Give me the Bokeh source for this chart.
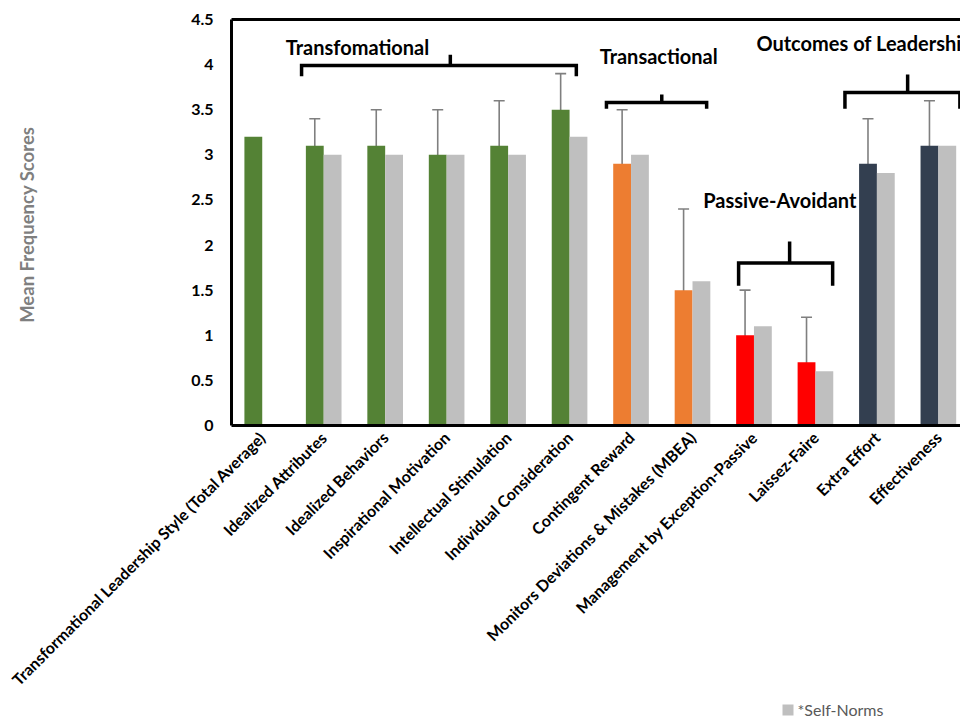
import numpy as np
from bokeh.plotting import figure
from bokeh.layouts import column
from bokeh.models import (ColumnDataSource, FixedTicker, LinearAxis, Whisker, TeeHead,
                          NumeralTickFormatter, Range1d)
from bokeh.embed import file_html
from bokeh.resources import INLINE
from bokeh.core.properties import value

# ---------------- data ----------------
categories = [
    "Transformational Leadership Style (Total Average)",
    "Idealized Attributes",
    "Idealized Behaviors",
    "Inspirational Motivation",
    "Intellectual Stimulation",
    "Individual Consideration",
    "Contingent Reward",
    "Monitors Deviations & Mistakes (MBEA)",
    "Management by Exception-Passive",
    "Laissez-Faire",
    "Extra Effort",
    "Effectiveness",
]
scores = [3.2, 3.1, 3.1, 3.0, 3.1, 3.5, 2.9, 1.5, 1.0, 0.7, 2.9, 3.1]
err_low = [np.nan, 2.8, 2.7, 2.5, 2.6, 3.1, 2.3, 0.6, 0.5, 0.2, 2.4, 2.6]
err_high = [np.nan, 3.4, 3.5, 3.5, 3.6, 3.9, 3.5, 2.4, 1.5, 1.2, 3.4, 3.6]
self_norms = [np.nan, 3.0, 3.0, 3.0, 3.0, 3.2, 3.0, 1.6, 1.1, 0.6, 2.8, 3.1]
style_group = ["transformational"] * 6 + ["transactional"] * 2 + ["passive"] * 2 + ["outcomes"] * 2
y_ticks = [0, 0.5, 1, 1.5, 2, 2.5, 3, 3.5, 4, 4.5]
legend_label = "*Self-Norms"
y_title = "Mean Frequency  Scores"

# group annotations (text, label x, label y, align) and bracket geometry (x_left, x_mid, x_right, y_bar, y_end, y_top)
group_labels = [
    ("Transfomational", 2.05, 4.19, "center"),
    ("Transactional", 6.95, 4.09, "center"),
    ("Outcomes of Leadership", 8.54, 4.24, "left"),
    ("Passive-Avoidant", 8.92, 2.50, "center"),
]
brackets = [
    (1.14, 3.56, 5.61, 3.99, 3.87, 4.11),
    (6.10, 7.00, 7.73, 3.58, 3.51, 3.67),
    (8.25, 9.08, 9.78, 1.80, 1.55, 2.04),
    (9.98, 11.00, 11.85, 3.69, 3.51, 3.89),
]

# ---------------- styling ----------------
palette = {
    "transformational": "#548235",
    "transactional": "#ED7D31",
    "passive": "#FF0000",
    "outcomes": "#333F50",
}
norm_color = "#BFBFBF"
FONT = "Lato"
bar_w = 0.29

n = len(categories)
centers = np.arange(n) + 0.5
main_x = centers - bar_w / 2
norm_x = centers + bar_w / 2

p = figure(width=960, height=698, output_backend="svg", toolbar_location=None,
           x_range=Range1d(0, 11.86), y_range=Range1d(0, 4.5),
           min_border_left=231, min_border_right=0, min_border_top=19,
           min_border_bottom=273)
p.outline_line_color = None
p.xgrid.grid_line_color = None
p.ygrid.grid_line_color = None
p.background_fill_color = "white"
p.border_fill_color = "white"

main_src = ColumnDataSource(dict(x=main_x, top=scores,
                                 color=[palette[g] for g in style_group]))
p.vbar(x="x", top="top", width=bar_w, bottom=0, fill_color="color",
       line_color=None, source=main_src)

norm_src = ColumnDataSource(dict(x=norm_x, top=self_norms))
p.vbar(x="x", top="top", width=bar_w, bottom=0, fill_color=norm_color,
       line_color=None, source=norm_src)

# error bars
mask = ~np.isnan(np.array(err_low))
err_src = ColumnDataSource(dict(x=main_x[mask], lo=np.array(err_low)[mask],
                                hi=np.array(err_high)[mask]))
whisk = Whisker(base="x", lower="lo", upper="hi", source=err_src, dimension="height",
                line_color="#7F7F7F", line_width=1.6,
                upper_head=TeeHead(size=11, line_color="#7F7F7F", line_width=1.6),
                lower_head=TeeHead(size=11, line_color="#7F7F7F", line_width=1.6))
p.add_layout(whisk)

# brackets
bx, by = [], []
for (xl, xm, xr, yb, ye, yt) in brackets:
    bx.append([xl, xl, xr, xr]); by.append([ye, yb, yb, ye])
    bx.append([xm, xm]); by.append([yb, yt])
p.multi_line(xs=bx, ys=by, line_color="black", line_width=3.5,
             line_join="miter", line_cap="butt")

# group labels
for (t, x, y, a) in group_labels:
    p.text(x=[x], y=[y], text=[t], text_font=value(FONT), text_font_style="bold",
           text_font_size="20px", text_color="black", text_align=a,
           text_baseline="middle")

# axes
xa = p.xaxis[0]
xa.ticker = FixedTicker(ticks=list(centers))
xa.major_label_overrides = {float(c): lab for c, lab in zip(centers, categories)}
xa.major_label_orientation = np.pi / 4
xa.major_tick_line_color = None
xa.minor_tick_line_color = None
xa.axis_line_color = "black"
xa.axis_line_width = 3
xa.major_label_text_font = FONT
xa.major_label_text_font_style = "bold"
xa.major_label_text_font_size = "16px"
xa.major_label_text_color = "black"
xa.major_label_standoff = 3

ya = p.yaxis[0]
ya.ticker = FixedTicker(ticks=y_ticks)
ya.formatter = NumeralTickFormatter(format="0.[0]")
ya.major_tick_line_color = None
ya.minor_tick_line_color = None
ya.axis_line_color = "black"
ya.axis_line_width = 3
ya.major_label_text_font = FONT
ya.major_label_text_font_style = "bold"
ya.major_label_text_font_size = "16px"
ya.major_label_text_color = "black"
ya.major_label_standoff = 12
ya.axis_label = y_title
ya.axis_label_text_font = FONT
ya.axis_label_text_font_style = "bold"
ya.axis_label_text_font_size = "18.5px"
ya.axis_label_text_color = "#7F7F7F"
ya.axis_label_standoff = 150

top_axis = LinearAxis(ticker=FixedTicker(ticks=[]), axis_line_color="black",
                      axis_line_width=3, major_tick_line_color=None,
                      minor_tick_line_color=None, major_label_text_font_size="0px")
p.add_layout(top_axis, "above")

# legend strip below the chart (its frame is aligned with the chart frame: 231..960 px)
q = figure(width=960, height=19, output_backend="svg", toolbar_location=None,
           x_range=Range1d(231, 960), y_range=Range1d(0, 19),
           min_border=0, x_axis_type=None, y_axis_type=None)
q.outline_line_color = None
q.xgrid.grid_line_color = None
q.ygrid.grid_line_color = None
q.background_fill_color = "white"
q.border_fill_color = "white"
q.quad(left=[782], right=[793], bottom=[2], top=[13], fill_color=norm_color,
       line_color=None)
q.text(x=[797], y=[8], text=[legend_label], text_font=value(FONT),
       text_font_size="16px", text_color="#595959", text_align="left",
       text_baseline="middle")

layout = column(p, q, spacing=0)
open("out.html", "w").write(file_html(layout, INLINE))
